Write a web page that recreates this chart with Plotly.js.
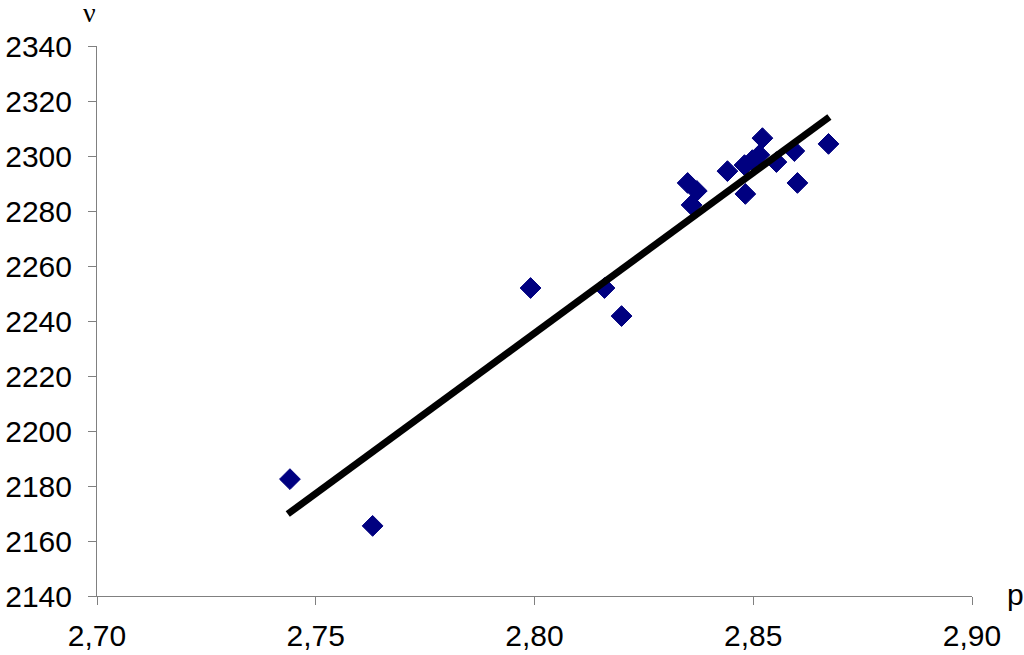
<!DOCTYPE html>
<html>
<head>
<meta charset="utf-8">
<script src="https://cdn.plot.ly/plotly-3.0.1.min.js"></script>
<style>html,body{margin:0;padding:0;background:#fff;}#chart{width:1024px;height:655px;}</style>
</head>
<body>
<div id="chart"></div>
<script>
const pValues = [2.7441, 2.7630, 2.7991, 2.8160, 2.8199, 2.8350, 2.8371, 2.8359, 2.8441, 2.8482, 2.8521, 2.8480, 2.8498, 2.8514, 2.8553, 2.8594, 2.8601, 2.8672];
const nuValues = [2182.5, 2165.5, 2252, 2252, 2241.8, 2290.2, 2287.3, 2282.2, 2294.5, 2286.2, 2306.5, 2296.7, 2298.5, 2300.4, 2297.8, 2301.8, 2290.2, 2304.4];
const fitP = [2.7436, 2.8674];
const fitNu = [2169.8, 2314.2];
const xTicks = [2.70, 2.75, 2.80, 2.85, 2.90];
const yTicks = [2140, 2160, 2180, 2200, 2220, 2240, 2260, 2280, 2300, 2320, 2340];

const font = {family: 'Liberation Sans, Arial, sans-serif', size: 30, color: '#000'};
const nuFont = {family: 'Liberation Serif, Times New Roman, serif', size: 28, color: '#000'};

const traces = [
  {x: pValues, y: nuValues, type: 'scatter', mode: 'markers',
   marker: {symbol: 'diamond', size: 16, color: '#000080', line: {color: '#000080', width: 1}},
   hoverinfo: 'x+y'},
  {x: fitP, y: fitNu, type: 'scatter', mode: 'lines',
   line: {color: '#000', width: 7}, hoverinfo: 'skip'}
];

const layout = {
  width: 1024, height: 655,
  margin: {l: 97, r: 52, t: 46, b: 59},
  paper_bgcolor: '#fff', plot_bgcolor: '#fff',
  showlegend: false,
  separators: ', ',
  font: font,
  xaxis: {range: [2.70, 2.90], tickvals: xTicks, tickformat: '.2f', showgrid: false, zeroline: false,
          showline: true, linecolor: '#808080', linewidth: 1, ticks: 'outside', ticklen: 8, tickcolor: '#808080',
          tickfont: font, ticklabelstandoff: 5},
  yaxis: {range: [2140, 2340], tickvals: yTicks, tickformat: 'd', showgrid: false, zeroline: false,
          showline: true, linecolor: '#808080', linewidth: 1, ticks: 'outside', ticklen: 8, tickcolor: '#808080',
          tickfont: font, ticklabelstandoff: 10},
  annotations: [
    {text: 'ν', xref: 'paper', yref: 'paper', x: 0, y: 1, xanchor: 'center', yanchor: 'middle',
     xshift: -8, yshift: 34, showarrow: false, font: nuFont},
    {text: 'p', xref: 'paper', yref: 'paper', x: 1, y: 0, xanchor: 'center', yanchor: 'middle',
     xshift: 43, yshift: 2, showarrow: false, font: font}
  ]
};

Plotly.newPlot('chart', traces, layout, {displayModeBar: false, staticPlot: true});
</script>
</body>
</html>
